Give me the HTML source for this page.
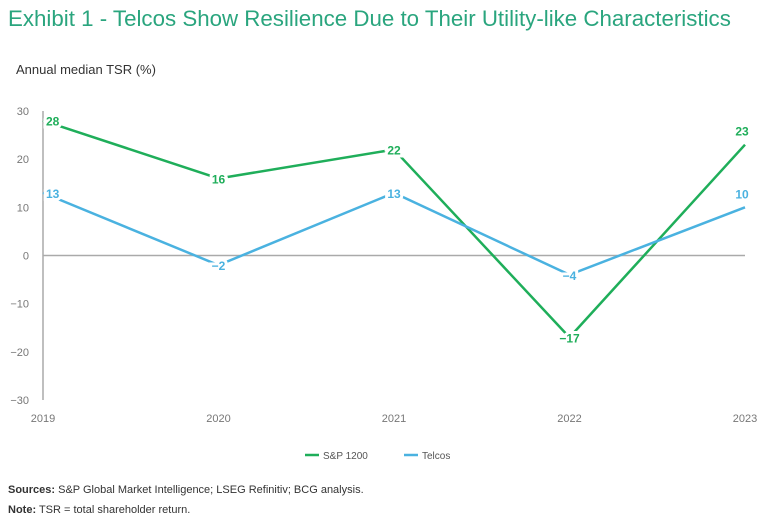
<!DOCTYPE html>
<html><head><meta charset="utf-8"><style>
body{margin:0;background:#fff;font-family:"Liberation Sans",sans-serif;}
#wrap{position:relative;width:768px;height:532px;overflow:hidden;}
.t{position:absolute;white-space:nowrap;}
</style></head><body>
<div id="wrap">
<div class="t" style="left:8px;top:6px;font-size:22.3px;color:#2aa57e;">Exhibit 1 - Telcos Show Resilience Due to Their Utility-like Characteristics</div>
<div class="t" style="left:16px;top:62px;font-size:13px;color:#333;">Annual median TSR (%)</div>
<svg id="chart" width="768" height="532" style="position:absolute;left:0;top:0"></svg>
<div class="t" style="left:8px;top:484px;font-size:11px;color:#333;"><b>Sources:</b> S&amp;P Global Market Intelligence; LSEG Refinitiv; BCG analysis.</div>
<div class="t" style="left:8px;top:504px;font-size:11px;color:#333;"><b>Note:</b> TSR = total shareholder return.</div>
</div>
<script>
const years=["2019","2020","2021","2022","2023"];
const sp1200=[28,16,22,-17,23];
const telcos=[13,-2,13,-4,10];
const yTicks=[30,20,10,0,-10,-20,-30];
const seriesNames=["S&P 1200","Telcos"];
const NS="http://www.w3.org/2000/svg";
const svg=document.getElementById('chart');
const x0=43,x1=745,yTop=111,yBot=400;
const xs=i=>x0+(x1-x0)*i/(years.length-1);
const ys=v=>yTop+(30-v)*(yBot-yTop)/60;
function mk(tag,attrs){const e=document.createElementNS(NS,tag);for(const k in attrs)e.setAttribute(k,attrs[k]);svg.appendChild(e);return e;}
yTicks.forEach(v=>{const t=mk('text',{x:29,y:ys(v)+4,'text-anchor':'end','font-size':11,fill:'#777','font-family':'Liberation Sans, sans-serif'});


t.textContent=v<0?'\u2212'+(-v):v;});
years.forEach((y,i)=>{const t=mk('text',{x:xs(i),y:422,'text-anchor':'middle','font-size':11,fill:'#777','font-family':'Liberation Sans, sans-serif'});


t.textContent=y;});
const za=mk('line',{x1:x0,x2:x1,y1:ys(0),y2:ys(0),stroke:'#aaa','stroke-width':1.5});


const ya=mk('line',{x1:x0,x2:x0,y1:yTop,y2:yBot,stroke:'#aaa','stroke-width':1.5});


function series(vals,color,name){
 const p=mk('polyline',{points:vals.map((v,i)=>xs(i)+','+ys(v)).join(' '),fill:'none',stroke:color,'stroke-width':2.5});
 
 
 vals.forEach((v,i)=>{let x=xs(i);let y=ys(v)+5;let anchor='middle';if(i==0){x+=3;anchor='start';}
  if(i==vals.length-1){x=x1-3;y=ys(v)-9;}
  const t=mk('text',{x:x,y:y,'text-anchor':anchor,'font-size':12,'font-weight':'bold',fill:color,stroke:'#fff','stroke-width':6,'paint-order':'stroke','font-family':'Liberation Sans, sans-serif'});
  
  
  t.textContent=v<0?'\u2212'+(-v):v;});
}
series(sp1200,'#1fae5a','sp1200');
series(telcos,'#4ab2e0','telcos');
const cols=['#1fae5a','#4ab2e0'];const lx=[305,404];
seriesNames.forEach((n,i)=>{const l=mk('line',{x1:lx[i],x2:lx[i]+14,y1:455,y2:455,stroke:cols[i],'stroke-width':2.5});


const t=mk('text',{x:lx[i]+18,y:459,'font-size':10,fill:'#555','font-family':'Liberation Sans, sans-serif'});


t.textContent=n;});
</script>
</body></html>
